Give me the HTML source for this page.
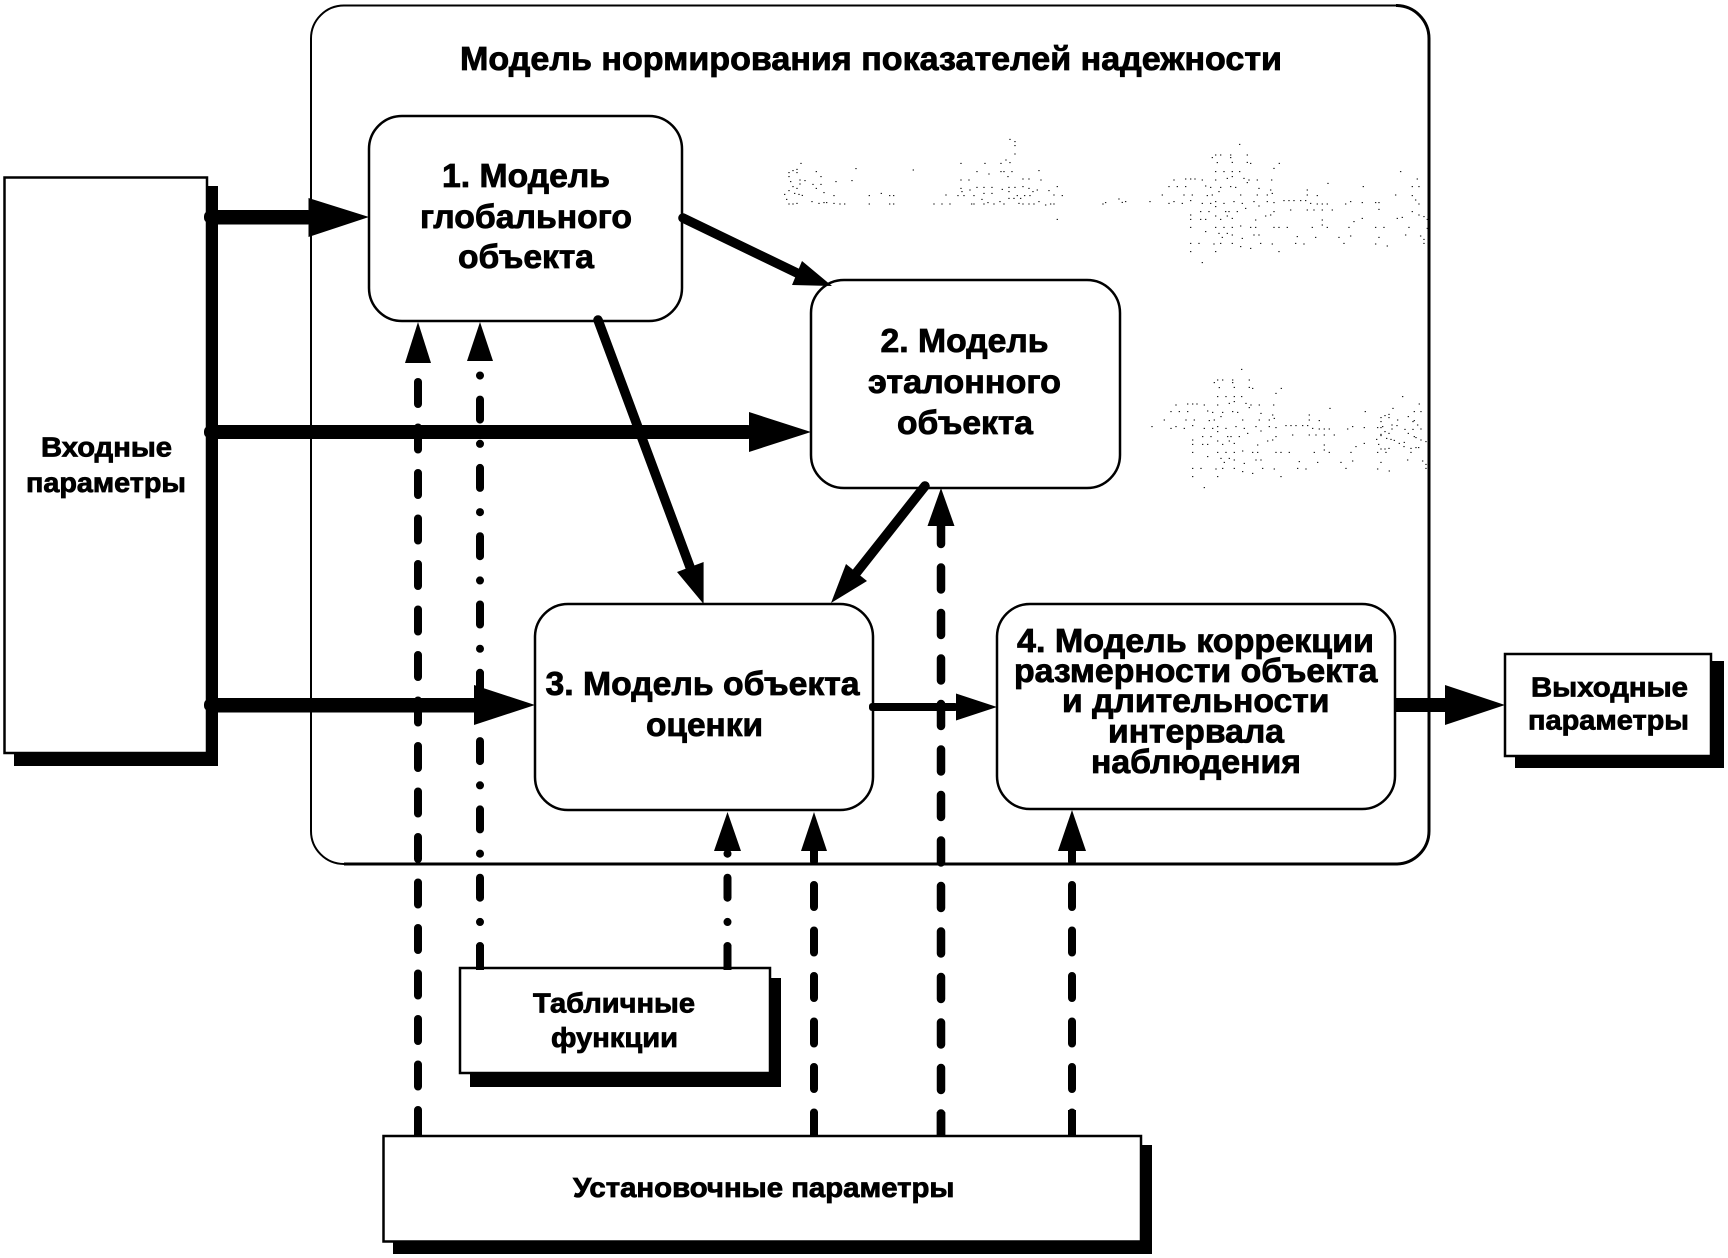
<!DOCTYPE html>
<html><head><meta charset="utf-8"><style>
html,body{margin:0;padding:0;background:#fff}
svg{display:block}
text{font-family:"Liberation Sans",sans-serif;font-weight:bold;fill:#000;stroke:#000;stroke-width:.8;text-anchor:start}
</style></head><body>
<svg width="1728" height="1258" viewBox="0 0 1728 1258" xmlns="http://www.w3.org/2000/svg">
<defs>
<path id="core" fill="none" stroke="#000" stroke-width="3" d="M297 43h4M225 75h4M240 75h4M270 75h4M320 75h4M215 83h4M270 83h4M230 98h4M275 97h4M320 97h4M330 100h4M416 100h4M400 115h4M225 125h4M250 125h4M275 125h4M297 125h4M780 125h4M225 150h4M260 145h4M275 140h4M310 145h4M325 150h4M350 150h4M393 150h4M100 150h4M135 147h4M150 147h4M163 147h4M185 150h4M830 147h4M562 160h4M85 170h4M110 170h4M135 170h4M195 168h4M210 172h4M240 172h4M270 170h4M285 172h4M320 158h4M355 175h4M390 180h4M500 180h4M668 170h4M815 170h4M835 170h4M65 195h4M130 195h4M155 195h4M200 197h4M215 195h4M235 185h4M300 195h4M350 195h4M380 195h4M395 190h4M500 195h4M530 197h4M765 195h4M815 197h4M28 215h4M85 220h4M100 215h4M125 220h4M150 212h4M185 220h4M210 220h4M225 215h4M250 220h4M280 215h4M305 220h4M340 215h4M380 215h4M400 218h4M430 212h4M445 212h4M460 212h4M480 212h4M495 212h4M510 220h4M530 222h4M545 222h4M560 222h4M615 222h4M630 215h4M665 218h4M705 218h4M715 218h4M825 210h4M835 222h4M225 230h4M180 245h4M205 245h4M255 245h4M265 245h4M290 245h4M315 235h4M355 228h4M400 245h4M450 240h4M500 240h4M520 240h4M545 240h4M575 240h4M715 238h4M150 255h4M180 268h4M150 268h4M195 268h4M225 258h4M240 268h4M260 258h4M275 265h4M345 270h4M375 258h4M390 255h4M815 245h4M835 255h4M770 265h4M785 262h4M850 260h4M860 268h4M545 270h4M545 285h4M640 275h4M665 265h4M150 292h4M225 292h4M250 292h4M275 292h4M300 288h4M330 292h4M345 292h4M400 292h4M415 292h4M440 292h4M515 292h4M560 292h4M625 292h4M705 292h4M730 292h4M805 292h4M860 295h4M195 305h4M235 310h4M260 310h4M275 315h4M340 315h4M355 315h4M470 320h4M525 322h4M595 322h4M630 318h4M715 322h4M795 315h4M840 318h4M850 328h4M245 322h4M305 325h4M150 340h4M175 340h4M220 342h4M240 340h4M275 340h4M300 350h4M330 355h4M360 340h4M395 342h4M465 340h4M490 342h4M610 340h4M705 342h4M740 348h4M850 340h4M150 365h4M225 365h4M415 365h4M185 398h4"/>
<path id="left" fill="none" stroke="#000" stroke-width="3" d="M55 128h4M67 122h4M79 118h4M79 128h4M55 140h4M60 155h4M88 150h4M103 152h4M88 162h4M67 170h4M79 175h4M55 182h4M42 193h4M72 190h4M85 193h4M95 196h4M48 208h4M55 222h4M67 222h4M79 220h4M91 100h4M137 125h4M151 140h4M127 163h4M151 163h4M137 175h4M160 188h4M124 215h4M145 220h4M160 218h4M168 218h4"/>
<path id="mid" fill="none" stroke="#000" stroke-width="3" d="M190 197h4M190 220h4M208 222h4M222 222h4M196 155h4M244 152h4M256 116h4M296 197h4M296 222h4M332 190h4M357 197h4M369 197h4M357 222h4M369 222h4M428 120h4M526 195h4M490 222h4M514 222h4M538 222h4M571 100h4M643 100h4M691 100h4M706 90h4M718 98h4M733 35h4M733 47h4M733 72h4M718 28h4M619 125h4M655 132h4M691 125h4M700 125h4M724 125h4M805 122h4M571 150h4M595 150h4M712 140h4M757 147h4M775 147h4M811 150h4M571 175h4M574 185h4M598 180h4M619 172h4M640 172h4M664 172h4M695 178h4M715 172h4M733 172h4M757 170h4M775 175h4M800 180h4M835 182h4M860 170h4M562 197h4M580 197h4M610 197h4M640 190h4M664 190h4M715 185h4M740 197h4M762 197h4M778 197h4M787 185h4M850 195h4M875 197h4M634 208h4M603 222h4M610 222h4M640 222h4M652 218h4M670 222h4M688 215h4M700 222h4M715 205h4M730 205h4M750 205h4M745 220h4M757 222h4M775 222h4M790 222h4M805 215h4M825 225h4M840 222h4M850 222h4M860 268h4M997 222h4M1005 218h4M1045 207h4M1055 217h4M1065 215h4"/>
</defs>
<rect width="1728" height="1258" fill="#fff"/>

<!-- outer -->
<rect x="311" y="5.5" width="1118" height="858.5" rx="33" fill="#fff" stroke="#000" stroke-width="2"/>
<path d="M1396 5.5A33 33 0 0 1 1429 38.5V831A33 33 0 0 1 1396 864H344" fill="none" stroke="#000" stroke-width="3"/>

<!-- noise -->
<use href="#left" transform="translate(770,130) scale(.3333)"/>
<use href="#mid" transform="translate(770,130) scale(.3333)"/>
<use href="#core" transform="translate(1140,130) scale(.3333)"/>
<use href="#core" transform="translate(1142,355) scale(.3333)"/>
<use href="#left" transform="translate(1362,375) scale(.3333)"/>

<!-- shadows -->
<rect x="14" y="186" width="204" height="580" fill="#000"/>
<rect x="1515" y="661" width="209" height="107" fill="#000"/>
<rect x="470" y="978" width="311" height="109" fill="#000"/>
<rect x="393" y="1145" width="759" height="109" fill="#000"/>

<!-- dashed long -->
<g fill="none" stroke="#000" stroke-linecap="round">
<line x1="418" y1="1132" x2="418" y2="366" stroke-width="8" stroke-dasharray="22 23.5"/>
<line x1="814" y1="1134.5" x2="814" y2="851" stroke-width="8" stroke-dasharray="22 23.5"/>
<line x1="941" y1="1135.5" x2="941" y2="526" stroke-width="8.5" stroke-dasharray="22 23.5"/>
<line x1="1072" y1="1134.5" x2="1072" y2="851" stroke-width="8" stroke-dasharray="22 23.5"/>
<line x1="480" y1="966" x2="480" y2="366" stroke-width="8" stroke-dasharray="20 24 .1 24.2"/>
<line x1="727.5" y1="966" x2="727.5" y2="851" stroke-width="8" stroke-dasharray="20 24 .1 24.2"/>
</g>
<!-- dashed heads -->
<polygon points="418,322 405,363 431,363" fill="#000"/>
<polygon points="480,322 467,361 493,361" fill="#000"/>
<polygon points="941,488 927.5,526 954.5,526" fill="#000"/>
<polygon points="727.5,812 714,851 741,851" fill="#000"/>
<polygon points="814,812 801,851 827,851" fill="#000"/>
<polygon points="1072,810 1058,851 1086,851" fill="#000"/>

<!-- solid thick horizontal -->
<g fill="#000">
<rect x="205" y="210" width="106" height="14.5" rx="3"/>
<polygon points="308.5,198 369,217 308.5,237"/>
<rect x="205" y="425" width="546" height="14" rx="3"/>
<polygon points="749,412 811,432 749,452"/>
<rect x="205" y="698" width="272" height="14.5" rx="3"/>
<polygon points="474,685 535,705 474,725"/>
<rect x="1395" y="698" width="52" height="14"/>
<polygon points="1445,685 1505,705 1445,725"/>
<rect x="870" y="703" width="88" height="8" rx="3"/>
<polygon points="956,693.5 997,707 956,720.5"/>
</g>

<!-- boxes -->
<g fill="#fff" stroke="#000" stroke-width="2.5">
<rect x="369" y="116" width="313" height="205" rx="33"/>
<rect x="811" y="280" width="309" height="208" rx="33"/>
<rect x="535" y="604" width="338" height="206" rx="33"/>
<rect x="997" y="604" width="398" height="205" rx="33"/>
<rect x="4.5" y="177.5" width="202.5" height="575.5"/>
<rect x="1505" y="654" width="206" height="102"/>
<rect x="460" y="968" width="310" height="105"/>
<rect x="383.5" y="1136" width="757.5" height="105.5"/>
</g>

<!-- diagonals and items drawn over box borders -->
<g fill="#000">
<polygon points="703.6,562 703.6,604 677,572"/>
<polygon points="846,564 867,581 831,603"/>
<polygon points="802,261 792,285 832,286"/>
<rect x="204" y="211" width="10" height="12" rx="5"/>
<rect x="204" y="426" width="10" height="12" rx="5"/>
<rect x="204" y="699" width="10" height="12" rx="5"/>
<rect x="869" y="703" width="8" height="8" rx="3"/>
</g>
<g stroke="#000" stroke-width="9.5" fill="none" stroke-linecap="round">
<line x1="683" y1="218" x2="797" y2="273"/>
<line x1="598" y1="320" x2="690" y2="567"/>
<line x1="925" y1="486" x2="857" y2="572"/>
</g>
<line x1="418" y1="1110" x2="418" y2="1137" stroke="#000" stroke-width="8"/>
<line x1="814" y1="1112" x2="814" y2="1137" stroke="#000" stroke-width="8"/>
<line x1="941" y1="1112" x2="941" y2="1137" stroke="#000" stroke-width="8.5"/>
<line x1="1072" y1="1110" x2="1072" y2="1137" stroke="#000" stroke-width="8"/>
<line x1="480" y1="945" x2="480" y2="970" stroke="#000" stroke-width="8"/>
<line x1="727.5" y1="945" x2="727.5" y2="970" stroke="#000" stroke-width="8"/>

<!-- labels -->
<g font-size="33">
<text x="460" y="70" textLength="822" lengthAdjust="spacingAndGlyphs">Модель нормирования показателей надежности</text>
<text x="442" y="187" textLength="168" lengthAdjust="spacingAndGlyphs">1. Модель</text>
<text x="420" y="228" textLength="212" lengthAdjust="spacingAndGlyphs">глобального</text>
<text x="458" y="268" textLength="136" lengthAdjust="spacingAndGlyphs">объекта</text>
<text x="880.5" y="352" textLength="168" lengthAdjust="spacingAndGlyphs">2. Модель</text>
<text x="868" y="393" textLength="193" lengthAdjust="spacingAndGlyphs">эталонного</text>
<text x="897" y="434" textLength="136" lengthAdjust="spacingAndGlyphs">объекта</text>
<text x="545.5" y="695" textLength="314" lengthAdjust="spacingAndGlyphs">3. Модель объекта</text>
<text x="646" y="736" textLength="117" lengthAdjust="spacingAndGlyphs">оценки</text>
<text x="1017" y="652" textLength="357" lengthAdjust="spacingAndGlyphs">4. Модель коррекции</text>
<text x="1014" y="682" textLength="363.5" lengthAdjust="spacingAndGlyphs">размерности объекта</text>
<text x="1062" y="712" textLength="267.5" lengthAdjust="spacingAndGlyphs">и длительности</text>
<text x="1108" y="742.5" textLength="176" lengthAdjust="spacingAndGlyphs">интервала</text>
<text x="1091" y="773" textLength="210" lengthAdjust="spacingAndGlyphs">наблюдения</text>
</g>
<g font-size="28">
<text x="41" y="456.5" textLength="131" lengthAdjust="spacingAndGlyphs">Входные</text>
<text x="26" y="492" textLength="160" lengthAdjust="spacingAndGlyphs">параметры</text>
<text x="1531" y="696.5" textLength="157" lengthAdjust="spacingAndGlyphs">Выходные</text>
<text x="1528" y="729.5" textLength="161" lengthAdjust="spacingAndGlyphs">параметры</text>
<text x="533" y="1012.5" textLength="162" lengthAdjust="spacingAndGlyphs">Табличные</text>
<text x="551" y="1047" textLength="127" lengthAdjust="spacingAndGlyphs">функции</text>
<text x="573" y="1197" textLength="381.5" lengthAdjust="spacingAndGlyphs">Установочные параметры</text>
</g>
</svg>
</body></html>
